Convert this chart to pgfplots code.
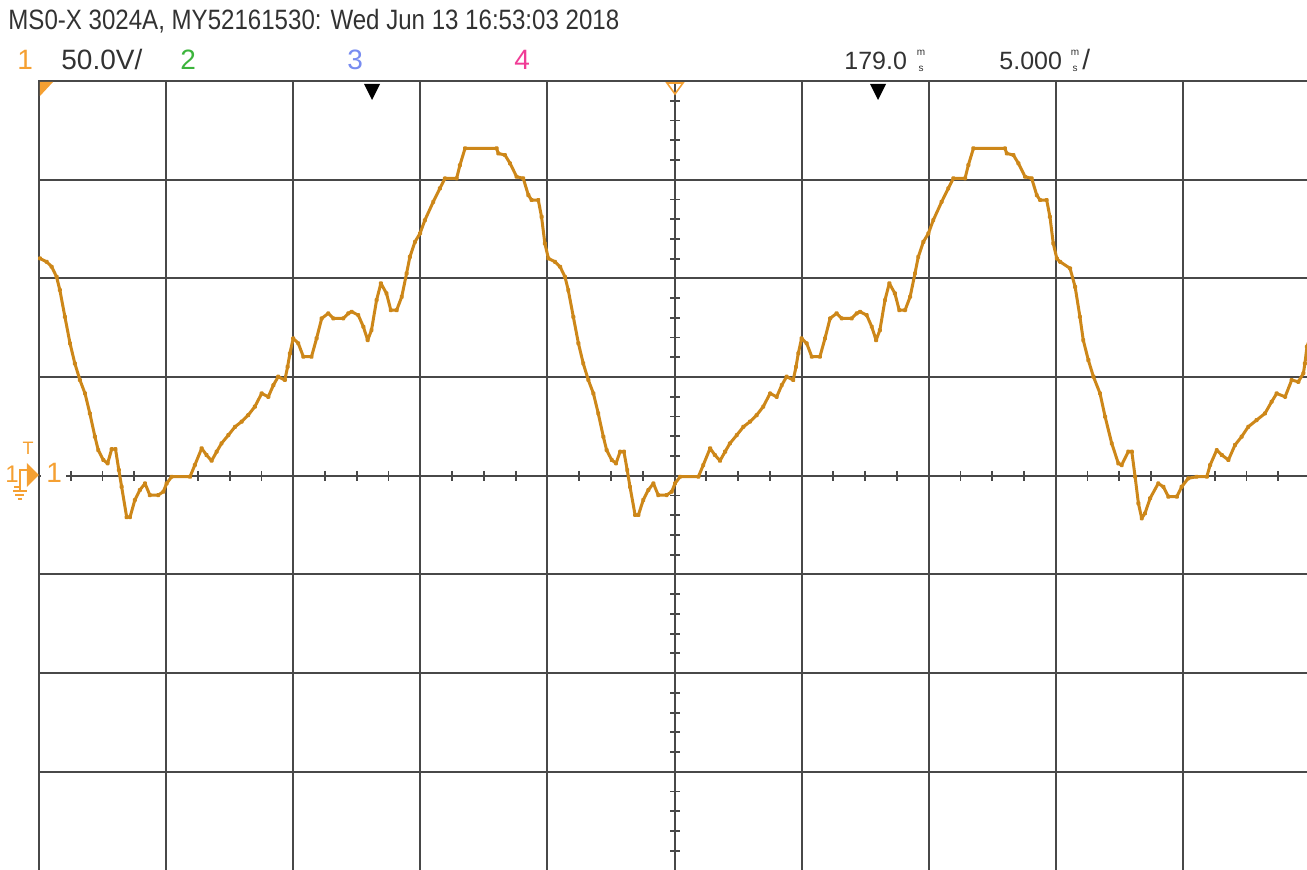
\documentclass[border=0pt]{standalone}
\usepackage{pgfplots}
\pgfplotsset{compat=1.18}
\usepackage{fontspec}
\setmainfont{Liberation Sans}
\newfontfamily\titlefont[FakeStretch=0.86]{Liberation Sans}
\definecolor{trace}{RGB}{205,135,25}
\definecolor{traced}{RGB}{150,90,20}
\definecolor{gridc}{RGB}{72,72,72}
\definecolor{ch1}{RGB}{245,160,50}
\definecolor{ch2}{RGB}{60,180,60}
\definecolor{ch3}{RGB}{120,140,240}
\definecolor{ch4}{RGB}{240,60,150}
\definecolor{txt}{RGB}{50,50,50}
\begin{document}
\begin{tikzpicture}
% minor ticks on the centre cross (pixel-based scope)
\begin{scope}[shift={(-19.5pt,435.25pt)}, x=0.5pt, y=-0.5pt]
  \foreach \k in {1,...,39}{
    \pgfmathtruncatemacro\m{mod(\k,4)}
    \ifnum\m=0\relax\else
      \draw[gridc, line width=0.9pt] ({39+\k*31.775},471) -- ({39+\k*31.775},480.5);
    \fi
    \pgfmathtruncatemacro\n{mod(\k,5)}
    \ifnum\n=0\relax\else
      \draw[gridc, line width=0.9pt] (670,{81+\k*19.7375}) -- (680,{81+\k*19.7375});
    \fi
  }
\end{scope}
\begin{axis}[at={(0pt,0pt)}, anchor=south west, scale only axis,
  width=635.5pt, height=394.75pt,
  xmin=154, xmax=204, ymin=-200, ymax=200,
  xtick={154,159,...,204}, ytick={-200,-150,...,200},
  xticklabels={}, yticklabels={}, major tick length=0pt,
  grid=major, major grid style={line width=1pt, gridc},
  axis line style={line width=1pt, gridc}]
\addplot[trace, line width=1.5pt, line join=round, mark=*, mark size=0.45pt,
  mark options={draw=none, fill=traced}] coordinates {
(154.04,110.1) (154.30,108.4) (154.50,105.9) (154.69,100.8) (154.82,94.1)
(155.02,80.5) (155.22,67.1) (155.41,56.9) (155.61,48.5) (155.81,41.7)
(156.00,31.6) (156.20,19.8) (156.33,13.0) (156.53,8.0) (156.70,6.3)
(156.86,13.5) (157.01,13.5) (157.14,2.9) (157.25,-5.6) (157.45,-21.0)
(157.58,-21.0) (157.77,-12.3) (157.97,-7.2) (158.17,-3.9) (158.36,-9.8)
(158.69,-9.8) (158.89,-8.1) (159.02,-3.9) (159.22,-0.5) (159.94,-0.5)
(160.13,5.4) (160.40,13.9) (160.59,10.5) (160.79,7.6) (160.99,12.2)
(161.18,16.4) (161.45,20.6) (161.71,24.8) (161.97,27.4) (162.23,30.7)
(162.49,35.0) (162.76,41.7) (163.02,40.0) (163.22,45.9) (163.41,50.2)
(163.67,48.5) (163.78,55.2) (163.87,62.0) (164.00,69.6) (164.20,67.1)
(164.40,60.3) (164.72,60.3) (164.92,69.6) (165.12,79.7) (165.38,82.3)
(165.58,79.7) (165.97,79.7) (166.17,82.3) (166.30,83.1) (166.56,81.4)
(166.76,75.5) (166.93,68.7) (167.08,73.8) (167.28,89.0) (167.45,97.5)
(167.67,92.4) (167.84,83.9) (168.07,83.9) (168.27,90.7) (168.46,102.5)
(168.59,110.9) (168.79,118.5) (168.99,122.8) (169.18,129.5) (169.51,138.8)
(169.77,145.6) (169.97,150.7) (170.43,150.7) (170.56,157.4) (170.76,165.9)
(172.00,165.9) (172.07,163.3) (172.33,162.5) (172.53,158.3) (172.79,151.5)
(173.05,150.7) (173.25,142.2) (173.38,139.7) (173.64,139.7) (173.77,131.2)
(173.90,117.7)
(174.04,110.1) (174.30,108.4) (174.50,105.9) (174.69,100.8) (174.82,94.1)
(175.02,80.5) (175.22,67.1) (175.41,56.9) (175.61,48.5) (175.81,41.7)
(176.00,31.6) (176.20,19.8) (176.33,13.0) (176.53,8.0) (176.70,6.3)
(176.86,12.2) (177.01,12.2) (177.14,2.9) (177.25,-5.6) (177.45,-19.9)
(177.58,-19.9) (177.77,-12.3) (177.97,-7.2) (178.17,-3.9) (178.36,-9.8)
(178.69,-9.8) (178.89,-8.1) (179.02,-3.9) (179.22,-0.5) (179.94,-0.5)
(180.13,5.4) (180.40,13.9) (180.59,10.5) (180.79,7.6) (180.99,12.2)
(181.18,16.4) (181.45,20.6) (181.71,24.8) (181.97,27.4) (182.23,30.7)
(182.49,35.0) (182.76,41.7) (183.02,40.0) (183.22,45.9) (183.41,50.2)
(183.67,48.5) (183.78,55.2) (183.87,62.0) (184.00,69.6) (184.20,67.1)
(184.40,60.3) (184.72,60.3) (184.92,69.6) (185.12,79.7) (185.38,82.3)
(185.58,79.7) (185.97,79.7) (186.17,82.3) (186.30,83.1) (186.56,81.4)
(186.76,75.5) (186.93,68.7) (187.08,73.8) (187.28,89.0) (187.45,97.5)
(187.67,92.4) (187.84,83.9) (188.07,83.9) (188.27,90.7) (188.46,102.5)
(188.59,110.9) (188.79,118.5) (188.99,122.8) (189.18,129.5) (189.51,138.8)
(189.77,145.6) (189.97,150.7) (190.43,150.7) (190.56,157.4) (190.76,165.9)
(192.00,165.9) (192.07,163.3) (192.33,162.5) (192.53,158.3) (192.79,151.5)
(193.05,150.7) (193.25,142.2) (193.38,139.7) (193.64,139.7) (193.77,131.2)
(193.90,117.7)
(194.04,110.1) (194.17,108.4) (194.56,105.1) (194.76,95.7) (194.95,80.5)
(195.08,68.7) (195.28,58.6) (195.48,50.2) (195.74,41.7) (195.94,29.9)
(196.20,16.4) (196.46,6.3) (196.59,5.4) (196.85,12.2) (196.99,12.2)
(197.12,-0.5) (197.25,-14.0) (197.38,-21.6) (197.51,-19.0) (197.71,-11.4)
(198.03,-3.9) (198.23,-5.6) (198.43,-10.6) (198.76,-10.6) (198.95,-5.6)
(199.21,-1.3) (199.54,-0.5) (199.94,-0.5) (200.07,5.4) (200.33,13.0)
(200.53,10.5) (200.79,8.0) (201.05,15.6) (201.31,19.8) (201.57,24.8)
(201.90,28.2) (202.23,31.6) (202.49,37.5) (202.69,41.7) (203.02,40.0)
(203.28,48.5) (203.54,47.6) (203.74,51.9) (203.80,56.9) (203.88,65.4)
(204.00,69.8)
};
\end{axis}
\begin{scope}[shift={(-19.5pt,435.25pt)}, x=0.5pt, y=-0.5pt]
  % header
  \node[anchor=base west, inner sep=0, txt, font=\titlefont\fontsize{14pt}{16pt}\selectfont] at (8,30)
    {MS0-X 3024A, MY52161530: Wed Jun 13 16:53:03 2018};
  \tikzset{hdr/.style={anchor=base west, inner sep=0, font=\fontsize{14pt}{16pt}\selectfont},
           num/.style={anchor=base west, inner sep=0, font=\fontsize{12.5pt}{16pt}\selectfont},
           unit/.style={anchor=base, inner sep=0, txt, font=\fontsize{5pt}{6pt}\selectfont}}
  \node[hdr, ch1] at (17,70) {1};
  \node[hdr, txt] at (61,70) {50.0V/};
  \node[hdr, ch2] at (180,70) {2};
  \node[hdr, ch3] at (347,70) {3};
  \node[hdr, ch4] at (514,70) {4};
  \node[num, txt] at (844,70) {179.0};
  \node[unit] at (921,56) {m};
  \node[unit] at (921,72) {s};
  \node[num, txt] at (999,70) {5.000};
  \node[unit] at (1075,56) {m};
  \node[unit] at (1075,72) {s};
  \node[hdr, txt] at (1082,70) {/};
  % top markers
  \fill[ch1] (40,82) -- (53,82) -- (40,96) -- cycle;
  \fill[black] (364,84) -- (380,84) -- (372,100) -- cycle;
  \fill[black] (870,84) -- (886,84) -- (878,100) -- cycle;
  \draw[ch1, line width=0.8pt] (667,83) -- (683,83) -- (675,94) -- cycle;
  % left ground / trigger markers
  \fill[white] (41,467) rectangle (66,485);
  \node[anchor=base west, inner sep=0, ch1, font=\fontsize{14pt}{16pt}\selectfont] at (46,483) {1};
  \node[anchor=base, inner sep=0, ch1, font=\fontsize{9pt}{10pt}\selectfont] at (28,455) {T};
  \node[anchor=base west, inner sep=0, ch1, font=\fontsize{12pt}{14pt}\selectfont] at (5,483) {1};
  \draw[ch1, line width=0.7pt] (14,487) -- (20,487) -- (20,470) -- (27,470);
  \fill[ch1] (27,463) -- (39,475) -- (27,487) -- cycle;
  \draw[ch1, line width=0.7pt] (20,487) -- (20,491) (13,491) -- (27,491) (15.5,495) -- (24.5,495) (18,499) -- (22,499);
\end{scope}
\pgfresetboundingbox
\begin{scope}[shift={(-19.5pt,435.25pt)}, x=0.5pt, y=-0.5pt]
  \useasboundingbox (0,0) rectangle (1307,869);
\end{scope}
\end{tikzpicture}
\end{document}
